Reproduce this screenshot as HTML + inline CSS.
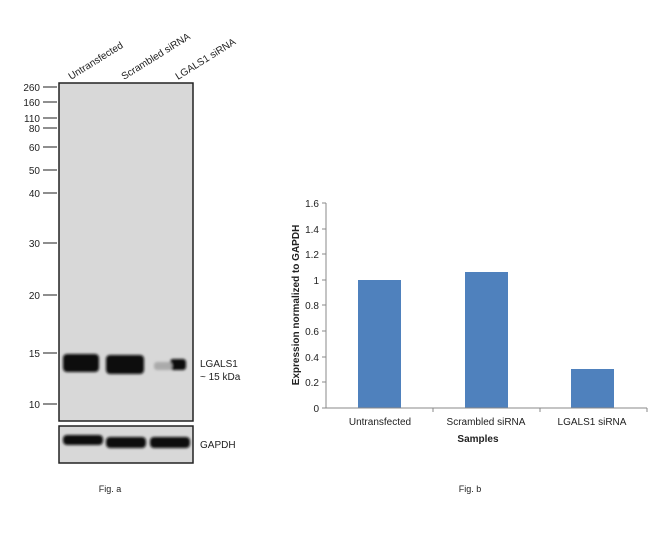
<!DOCTYPE html>
<html><head><style>
body{margin:0;width:650px;height:530px;background:#fff;overflow:hidden;font-family:"Liberation Sans",Arial,sans-serif;}
</style></head><body>
<svg width="650" height="530" viewBox="0 0 650 530" xmlns="http://www.w3.org/2000/svg" font-family="Liberation Sans, Arial, sans-serif">
<defs>
<filter id="bl" x="-20%" y="-50%" width="140%" height="200%"><feGaussianBlur stdDeviation="1.2"/></filter>
</defs>
<!-- lane labels -->
<g font-size="10" fill="#222">
<text transform="translate(71,80) rotate(-32)">Untransfected</text>
<text transform="translate(124,80) rotate(-32)">Scrambled siRNA</text>
<text transform="translate(178,80) rotate(-32)">LGALS1 siRNA</text>
</g>
<!-- blot -->
<rect x="59" y="83" width="134" height="338" fill="#d8d8d8" stroke="#222" stroke-width="1.5"/>
<rect x="59" y="426" width="134" height="37" fill="#d8d8d8" stroke="#222" stroke-width="1.5"/>
<g filter="url(#bl)" fill="#0a0a0a">
<rect x="63" y="354" width="36" height="18" rx="4"/>
<rect x="106" y="355" width="38" height="19" rx="4"/>
<rect x="170" y="359" width="16" height="11" rx="3"/>
<rect x="154" y="362" width="18" height="8" rx="3" fill="#aaa"/>
<rect x="63" y="435" width="40" height="10" rx="4"/>
<rect x="106" y="437" width="40" height="11" rx="4"/>
<rect x="150" y="437" width="40" height="11" rx="4"/>
</g>
<g stroke="#444" stroke-width="1.2">
<line x1="43" y1="87" x2="57" y2="87"/><line x1="43" y1="102" x2="57" y2="102"/>
<line x1="43" y1="118" x2="57" y2="118"/><line x1="43" y1="128" x2="57" y2="128"/>
<line x1="43" y1="147" x2="57" y2="147"/><line x1="43" y1="170" x2="57" y2="170"/>
<line x1="43" y1="193" x2="57" y2="193"/><line x1="43" y1="243" x2="57" y2="243"/>
<line x1="43" y1="295" x2="57" y2="295"/><line x1="43" y1="353" x2="57" y2="353"/>
<line x1="43" y1="404" x2="57" y2="404"/>
</g>
<g font-size="10" fill="#222" text-anchor="end">
<text x="40" y="91">260</text><text x="40" y="106">160</text><text x="40" y="122">110</text>
<text x="40" y="132">80</text><text x="40" y="151">60</text><text x="40" y="174">50</text>
<text x="40" y="197">40</text><text x="40" y="247">30</text><text x="40" y="299">20</text>
<text x="40" y="357">15</text><text x="40" y="408">10</text>
</g>
<g font-size="10" fill="#222">
<text x="200" y="367">LGALS1</text><text x="200" y="380">~ 15 kDa</text>
<text x="200" y="448">GAPDH</text>
<text x="110" y="492" font-size="9" text-anchor="middle">Fig. a</text>
<text x="470" y="492" font-size="9" text-anchor="middle">Fig. b</text>
</g>
<!-- chart b -->
<g fill="#4f81bd">
<rect x="358" y="280" width="43" height="128"/>
<rect x="465" y="272" width="43" height="136"/>
<rect x="571" y="369" width="43" height="39"/>
</g>
<g stroke="#888" stroke-width="1">
<line x1="326" y1="203" x2="326" y2="408"/>
<line x1="326" y1="408" x2="647" y2="408"/>
<line x1="322" y1="203" x2="326" y2="203"/><line x1="322" y1="229" x2="326" y2="229"/>
<line x1="322" y1="254" x2="326" y2="254"/><line x1="322" y1="280" x2="326" y2="280"/>
<line x1="322" y1="305" x2="326" y2="305"/><line x1="322" y1="331" x2="326" y2="331"/>
<line x1="322" y1="357" x2="326" y2="357"/><line x1="322" y1="382" x2="326" y2="382"/>
<line x1="322" y1="408" x2="326" y2="408"/>
<line x1="433" y1="408" x2="433" y2="412"/><line x1="540" y1="408" x2="540" y2="412"/><line x1="647" y1="408" x2="647" y2="412"/>
</g>
<g font-size="10" fill="#222" text-anchor="end">
<text x="319" y="207">1.6</text><text x="319" y="233">1.4</text><text x="319" y="258">1.2</text>
<text x="319" y="284">1</text><text x="319" y="309">0.8</text><text x="319" y="335">0.6</text>
<text x="319" y="361">0.4</text><text x="319" y="386">0.2</text><text x="319" y="412">0</text>
</g>
<g font-size="10" fill="#222" text-anchor="middle">
<text x="380" y="425">Untransfected</text>
<text x="486" y="425">Scrambled siRNA</text>
<text x="592" y="425">LGALS1 siRNA</text>
<text x="478" y="442" font-weight="bold">Samples</text>
<text transform="translate(299,305) rotate(-90)" font-weight="bold">Expression normalized to GAPDH</text>
</g>
</svg>
</body></html>
